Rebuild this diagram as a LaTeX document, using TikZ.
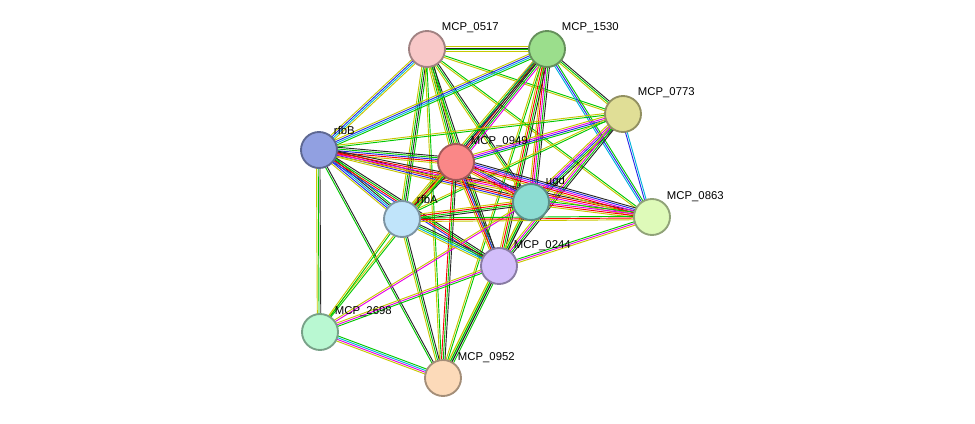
\documentclass[tikz,border=0pt]{standalone}
\usepackage{fontspec}
\setmainfont{Liberation Sans}
\usetikzlibrary{calc,backgrounds}
\definecolor{txm}{RGB}{199,199,0}
\definecolor{coex}{RGB}{40,40,40}
\definecolor{nbh}{RGB}{0,200,0}
\definecolor{dbs}{RGB}{0,180,220}
\definecolor{exps}{RGB}{230,0,230}
\definecolor{fus}{RGB}{250,0,0}
\definecolor{homo}{RGB}{40,40,230}
\definecolor{c0949}{RGB}{250,135,135}
\definecolor{c0517}{RGB}{248,200,200}
\definecolor{c1530}{RGB}{155,222,140}
\definecolor{c0773}{RGB}{224,222,150}
\definecolor{crfbB}{RGB}{145,160,225}
\definecolor{cugd}{RGB}{140,220,210}
\definecolor{c0863}{RGB}{222,250,185}
\definecolor{crfbA}{RGB}{192,228,250}
\definecolor{c0244}{RGB}{210,190,250}
\definecolor{c2698}{RGB}{185,248,210}
\definecolor{c0952}{RGB}{252,218,185}
\tikzset{
  prot/.style={circle,draw=#1!65!black,fill=#1,line width=1.4pt,minimum size=27pt,inner sep=0pt},
  lbl/.style={font=\fontsize{8.5}{10}\selectfont,anchor=south west,inner sep=1pt}
}
% bundle of parallel coloured lines between two nodes
\newcommand\stredge[3]{%
  \foreach \c [count=\i] in {#3}{%
    \pgfmathsetmacro\d{(\i-2.5)*1.3}%
    \draw[\c,line width=0.7pt] ($(#1)!\d pt!90:(#2)$) -- ($(#2)!\d pt!-90:(#1)$);
  }}
\begin{document}
\begin{tikzpicture}[x=0.75pt,y=-0.75pt]
\useasboundingbox (0,0) rectangle (975,424);
% proteins
\node[prot=c0949] (n0949) at (456,162) {};
\node[prot=c0517] (n0517) at (427,49) {};
\node[prot=c1530] (n1530) at (547,49) {};
\node[prot=c0773] (n0773) at (623,114) {};
\node[prot=crfbB] (rfbB) at (319,150) {};
\node[prot=cugd] (ugd) at (531,202) {};
\node[prot=c0863] (n0863) at (652,217) {};
\node[prot=crfbA] (rfbA) at (402,219) {};
\node[prot=c0244] (n0244) at (499,266) {};
\node[prot=c2698] (n2698) at (320,332) {};
\node[prot=c0952] (n0952) at (443,378) {};
% labels
\node[lbl] at ([yshift=1pt]n0517.north east) {MCP\_0517};
\node[lbl] at ([yshift=1pt]n1530.north east) {MCP\_1530};
\node[lbl] at ([yshift=1pt]n0773.north east) {MCP\_0773};
\node[lbl] at (rfbB.north east) {rfbB};
\node[lbl] at (n0949.north east) {MCP\_0949};
\node[lbl] at (ugd.north east) {ugd};
\node[lbl] at (n0863.north east) {MCP\_0863};
\node[lbl] at (rfbA.north east) {rfbA};
\node[lbl] at (n0244.north east) {MCP\_0244};
\node[lbl] at (n2698.north east) {MCP\_2698};
\node[lbl] at (n0952.north east) {MCP\_0952};
% interactions
\begin{pgfonlayer}{background}
\stredge{n0517}{n1530}{txm,nbh,coex,txm}
\stredge{n0517}{rfbB}{txm,homo,dbs,txm}
\stredge{n0517}{n0949}{txm,nbh,coex,nbh}
\stredge{n0517}{ugd}{txm,nbh,coex}
\stredge{n0517}{rfbA}{txm,nbh,coex,nbh}
\stredge{n0517}{n0244}{txm,nbh,coex}
\stredge{n0517}{n0863}{txm,nbh}
\stredge{n0517}{n0773}{txm,nbh}
\stredge{n0517}{n0952}{txm,nbh}
\stredge{n1530}{rfbB}{txm,homo,dbs,nbh}
\stredge{n1530}{n0949}{homo,fus,coex,nbh,exps}
\stredge{n1530}{ugd}{txm,fus,exps,nbh,coex}
\stredge{n1530}{rfbA}{txm,nbh,coex}
\stredge{n1530}{n0244}{txm,fus,nbh,coex}
\stredge{n1530}{n0773}{txm,nbh,coex}
\stredge{n1530}{n0863}{dbs,homo,nbh}
\stredge{n1530}{n0952}{txm,nbh}
\stredge{n0773}{rfbB}{txm,nbh}
\stredge{n0773}{n0949}{txm,exps,homo,nbh}
\stredge{n0773}{ugd}{txm,exps,homo,nbh,coex}
\stredge{n0773}{rfbA}{txm,nbh}
\stredge{n0773}{n0244}{txm,exps,nbh,coex}
\stredge{n0773}{n0863}{homo,dbs}
\stredge{rfbB}{n0949}{txm,fus,homo,nbh,coex}
\stredge{rfbB}{ugd}{txm,homo,fus,coex}
\stredge{rfbB}{rfbA}{txm,homo,dbs,coex,nbh}
\stredge{rfbB}{n0244}{homo,fus,nbh,coex}
\stredge{rfbB}{n0863}{txm,exps,fus,coex}
\stredge{rfbB}{n2698}{txm,nbh,coex}
\stredge{rfbB}{n0952}{nbh,coex}
\stredge{n0949}{ugd}{txm,fus,exps,homo,coex}
\stredge{n0949}{rfbA}{txm,fus,nbh,coex}
\stredge{n0949}{n0244}{txm,fus,homo,coex}
\stredge{n0949}{n0863}{txm,fus,exps,homo,coex}
\stredge{n0949}{n0952}{fus,nbh,coex}
\stredge{n0949}{n2698}{txm,nbh}
\stredge{ugd}{rfbA}{txm,fus,nbh,coex}
\stredge{ugd}{n0244}{txm,nbh,coex}
\stredge{ugd}{n0863}{txm,fus,exps,nbh}
\stredge{ugd}{n0952}{txm,nbh,coex}
\stredge{ugd}{n2698}{txm,exps}
\stredge{rfbA}{n0244}{txm,dbs,nbh,coex}
\stredge{rfbA}{n0863}{txm,fus,nbh}
\stredge{rfbA}{n0952}{txm,nbh,coex}
\stredge{rfbA}{n2698}{txm,nbh}
\stredge{n0244}{n0863}{txm,exps,nbh}
\stredge{n0244}{n2698}{txm,exps,nbh}
\stredge{n0244}{n0952}{txm,nbh,coex,nbh}
\stredge{n2698}{n0952}{txm,exps,dbs,nbh}
\end{pgfonlayer}
\end{tikzpicture}
\end{document}
